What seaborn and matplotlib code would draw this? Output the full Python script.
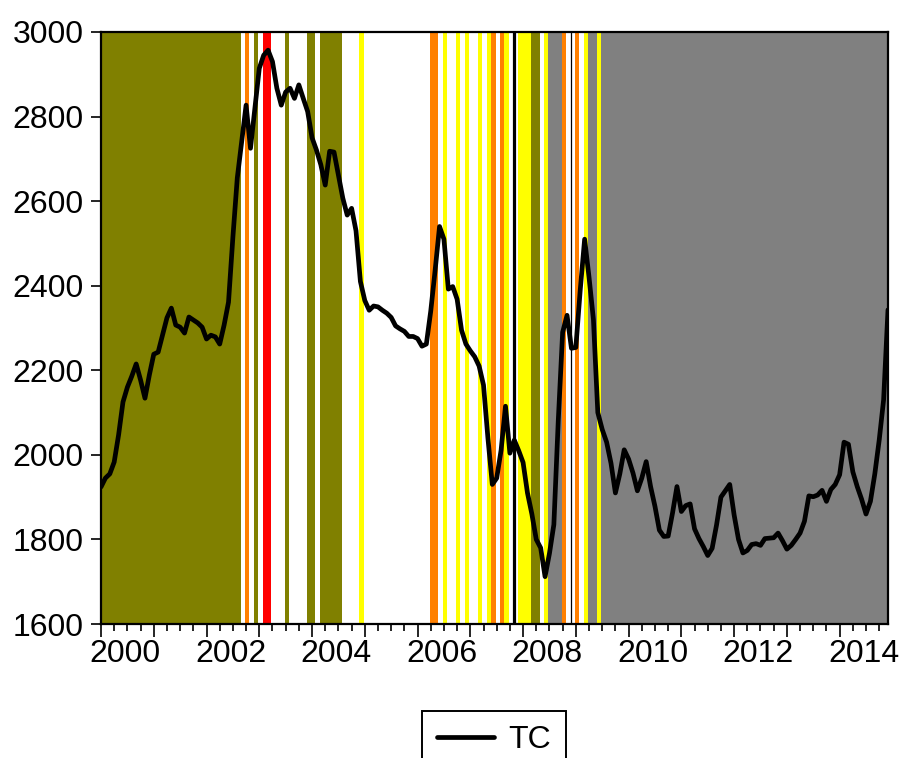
import numpy as np
import pandas as pd
import matplotlib
matplotlib.use("Agg")
import matplotlib.pyplot as plt
import matplotlib.transforms as mtransforms
from matplotlib.ticker import FixedLocator
from matplotlib.lines import Line2D
import seaborn as sns

# ---------------- data ----------------
start_year = 2000
tc = [1924, 1945, 1955, 1983, 2047, 2125, 2160, 2186, 2215, 2177, 2134, 2189,
      2238, 2243, 2283, 2324, 2347, 2307, 2302, 2288, 2326, 2319, 2312, 2302,
      2274, 2283, 2279, 2262, 2307, 2361, 2515, 2655, 2740, 2827, 2725, 2820,
      2914, 2945, 2957, 2930, 2867, 2827, 2858, 2867, 2843, 2875, 2843, 2812,
      2750, 2721, 2686, 2638, 2718, 2716, 2662, 2607, 2567, 2583, 2530, 2410,
      2365, 2342, 2352, 2350, 2342, 2335, 2325, 2305, 2298, 2292, 2280, 2280,
      2275, 2257, 2262, 2340, 2437, 2540, 2510, 2392, 2398, 2368, 2295, 2262,
      2246, 2232, 2210, 2165, 2040, 1930, 1945, 2011, 2115, 2004, 2035, 2010,
      1982, 1910, 1860, 1800, 1780, 1712, 1767, 1835, 2080, 2290, 2330, 2252,
      2254, 2390, 2510, 2420, 2320, 2100, 2060, 2030, 1980, 1910, 1955, 2012,
      1990, 1957, 1915, 1945, 1984, 1925, 1878, 1822, 1807, 1808, 1863, 1925,
      1866, 1880, 1884, 1825, 1802, 1783, 1762, 1779, 1834, 1900, 1915, 1930,
      1858, 1800, 1768, 1774, 1788, 1790, 1786, 1802, 1803, 1804, 1815, 1797,
      1777, 1786, 1800, 1815, 1843, 1903, 1901, 1905, 1916, 1890, 1918, 1930,
      1953, 2030, 2025, 1960, 1925, 1895, 1860, 1890, 1955, 2035, 2130, 2343]

shade_start = ["2000-01", "2002-10", "2002-12", "2003-02", "2003-07", "2003-12",
               "2004-03", "2004-12", "2006-04", "2006-07", "2006-10", "2006-12",
               "2007-03", "2007-05", "2007-06", "2007-08", "2007-09", "2007-12",
               "2008-01", "2008-03", "2008-06", "2008-07", "2008-10", "2009-01",
               "2009-03", "2009-04", "2009-06", "2009-07"]
shade_end = ["2002-08", "2002-10", "2002-12", "2003-03", "2003-07", "2004-01",
             "2004-07", "2004-12", "2006-05", "2006-07", "2006-10", "2006-12",
             "2007-03", "2007-05", "2007-06", "2007-08", "2007-09", "2007-12",
             "2008-02", "2008-04", "2008-06", "2008-09", "2008-10", "2009-01",
             "2009-03", "2009-05", "2009-06", "2014-12"]
shade_regime = ["olive", "orange", "olive", "red", "olive", "olive",
                "olive", "yellow", "orange", "yellow", "yellow", "yellow",
                "yellow", "yellow", "orange", "orange", "yellow", "yellow",
                "yellow", "olive", "yellow", "gray", "orange", "orange",
                "yellow", "gray", "yellow", "gray"]

event_thick = "2007-11"
event_thin = "2008-12"

year_ticks = list(range(2000, 2015))
year_labels = [str(y) if y % 2 == 0 else "" for y in year_ticks]
y_ticks = [1600, 1800, 2000, 2200, 2400, 2600, 2800, 3000]

# ---------------- styling ----------------
regime_colors = {"olive": "#808000", "orange": "#FF8000", "red": "#FF0000",
                 "yellow": "#FFFF00", "gray": "#808080"}

sns.set_theme(style="white")
plt.rcParams["font.family"] = ["Liberation Sans", "DejaVu Sans"]
plt.rcParams["text.color"] = "black"
plt.rcParams["xtick.color"] = "black"
plt.rcParams["ytick.color"] = "black"
plt.rcParams["axes.labelcolor"] = "black"


def to_t(s):
    y, m = s.split("-")
    return int(y) + (int(m) - 1) / 12.0


n = len(tc)
t = start_year + np.arange(n) / 12.0
df = pd.DataFrame({"t": t, "TC": tc})

fig = plt.figure(figsize=(9.04, 7.58), dpi=100)
ax = fig.add_axes([101 / 904, 1 - 624 / 758, (888 - 101) / 904, (624 - 32) / 758])

dm = 1 / 12.0
for s, e, r in zip(shade_start, shade_end, shade_regime):
    ax.axvspan(to_t(s) - 0.25 * dm, to_t(e) + 0.75 * dm,
               color=regime_colors[r], lw=0, zorder=0)

ax.axvline(to_t(event_thick), color="black", lw=2.3, zorder=1)
ax.axvline(to_t(event_thin), color="black", lw=0.9, zorder=1)

sns.lineplot(data=df, x="t", y="TC", ax=ax, color="black", linewidth=3.4,
             legend=False, zorder=3)

ax.set_xlim(t[0], t[-1])
ax.set_ylim(1600, 3000)
ax.set_xlabel("")
ax.set_ylabel("")

ax.xaxis.set_major_locator(FixedLocator(year_ticks))
ax.set_xticklabels(year_labels)
ax.xaxis.set_minor_locator(FixedLocator([y + q / 4 for y in year_ticks for q in (1, 2, 3)]))
ax.set_yticks(y_ticks)
ax.set_yticklabels([str(v) for v in y_ticks])

ax.tick_params(axis="x", which="major", direction="out", length=9.5, width=1.2,
               color="black", labelcolor="black", labelsize=23, pad=1, bottom=True)
ax.tick_params(axis="x", which="minor", direction="out", length=5, width=1.2,
               color="black", bottom=True)
ax.tick_params(axis="y", which="major", direction="out", length=7.5, width=1.2,
               color="black", labelcolor="black", labelsize=23, pad=5, left=True)
for lab in ax.get_xticklabels():
    lab.set_transform(lab.get_transform() +
                      mtransforms.ScaledTranslation(0.24, 0, fig.dpi_scale_trans))

for sp in ax.spines.values():
    sp.set_visible(True)
    sp.set_color("black")
    sp.set_linewidth(1.6)
    sp.set_zorder(5)

handle = Line2D([], [], color="black", lw=3.4)
leg = fig.legend([handle], ["TC"], loc="upper center",
                 bbox_to_anchor=(494 / 904, 1 - 711 / 758),
                 fontsize=23, frameon=True, fancybox=False, framealpha=1,
                 edgecolor="black", handlelength=1.8, handletextpad=0.45,
                 borderpad=0.45, borderaxespad=0)
leg.get_frame().set_linewidth(1.4)
for txt in leg.get_texts():
    txt.set_color("black")

fig.savefig("out.png", dpi=100)
